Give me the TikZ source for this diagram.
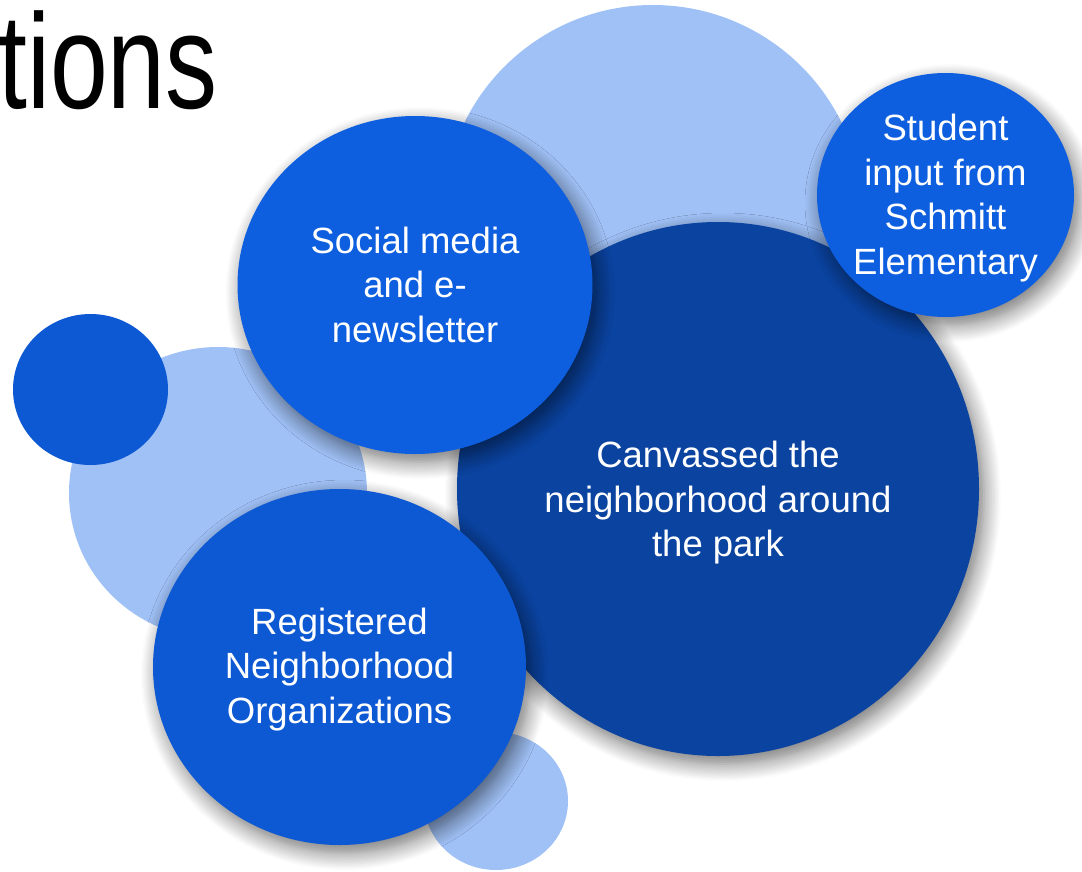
\documentclass[tikz,border=0pt]{standalone}
\usepackage{fontspec}
\setmainfont{Liberation Sans}
\newfontfamily\titlefont[FakeStretch=0.77]{Liberation Sans}
\usetikzlibrary{shapes.geometric}
\usetikzlibrary{shadows.blur}

\definecolor{paleblue}{HTML}{A0C1F6}
\definecolor{midblue}{HTML}{0E5FDF}
\definecolor{deepblue}{HTML}{0D58D3}
\definecolor{navyblue}{HTML}{0A43A0}

\begin{document}
\begin{tikzpicture}[x=1pt, y=-1pt,
    bubble/.style={ellipse, inner sep=0pt, draw=none},
    shadowed/.style={blur shadow={shadow xshift=5pt, shadow yshift=-8pt,
        shadow blur radius=17pt, shadow blur steps=10, shadow opacity=55}},
    bubbletext/.style={text=white, align=center, inner sep=0pt,
        font=\fontsize{36.5}{44.5}\selectfont}]
    \useasboundingbox (0,0) rectangle (1082,871);

    % title, cut at the left edge
    \node[anchor=base west, inner sep=0pt,
        font=\titlefont\fontsize{135}{135}\selectfont] (title) at (-2,108) {tions};

    % pale circles behind
    \node[bubble, fill=paleblue, minimum width=420pt, minimum height=420pt] (topbg) at (653,215) {};
    \node[bubble, fill=paleblue, minimum width=298pt, minimum height=292pt] (leftbg) at (218,493) {};
    \node[bubble, fill=deepblue, minimum width=155pt, minimum height=151pt] (dot) at (90.5,389.5) {};
    \node[bubble, fill=paleblue, minimum width=144pt, minimum height=138pt] (bottombg) at (496,801) {};

    % labelled circles
    \node[bubble, shadowed, fill=navyblue, minimum width=522pt, minimum height=534pt] (canvass) at (718,489) {};
    \node[bubbletext] (canvasstext) at (718,503) {Canvassed the\\neighborhood around\\the park};

    \node[bubble, shadowed, fill=midblue, minimum width=355pt, minimum height=338pt] (social) at (415,285) {};
    \node[bubbletext] (socialtext) at (415,284.5) {Social media\\and e-\\newsletter};

    \node[bubble, shadowed, fill=deepblue, minimum width=373pt, minimum height=356pt] (registered) at (339.5,667) {};
    \node[bubbletext] (registeredtext) at (339.5,669.5) {Registered\\Neighborhood\\Organizations};

    \node[bubble, shadowed, fill=midblue, minimum width=257pt, minimum height=244pt] (student) at (945.5,195) {};
    \node[bubbletext] (studenttext) at (945.5,198) {Student\\input from\\Schmitt\\Elementary};
\end{tikzpicture}
\end{document}
